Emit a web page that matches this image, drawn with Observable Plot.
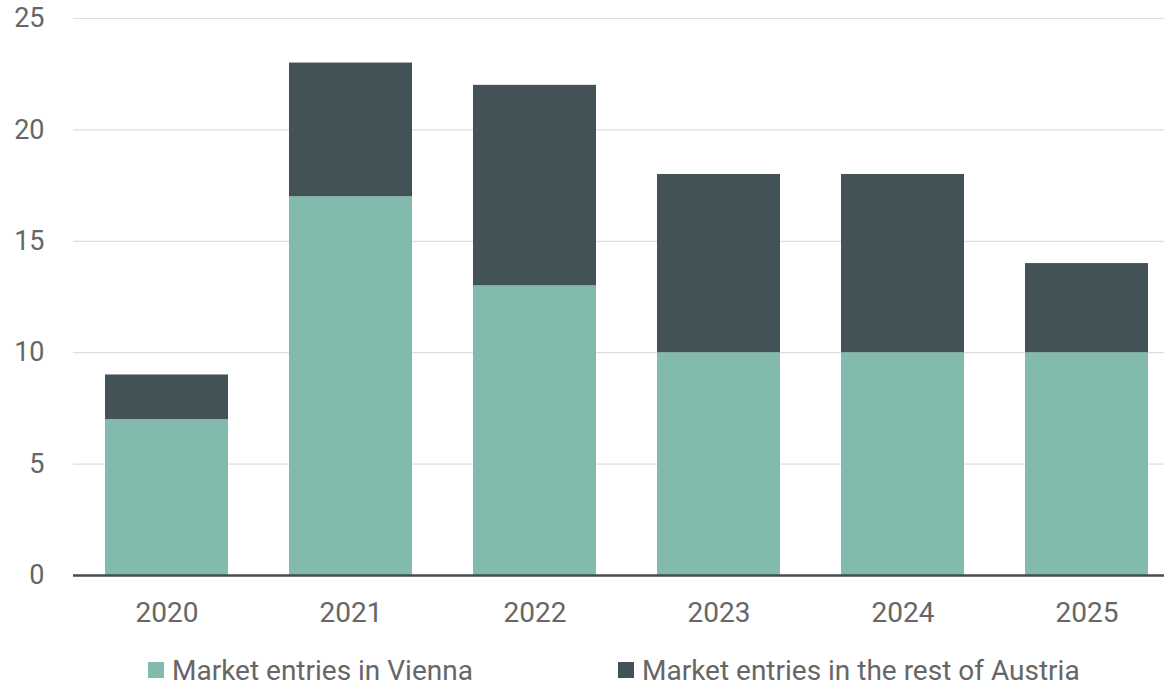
<!DOCTYPE html>
<html>
<head>
<meta charset="utf-8">
<script src="https://cdn.jsdelivr.net/npm/d3@7"></script>
<script src="https://cdn.jsdelivr.net/npm/@observablehq/plot@0.6"></script>
<style>
  html, body { margin: 0; padding: 0; background: #fff; }
  #chart { position: relative; width: 1164px; height: 685px; font-family: Roboto, "Noto Sans", sans-serif; }
  .legend { position: absolute; top: 647px; left: 0; width: 1164px; height: 38px; }
  .item { position: absolute; top: 0; height: 46px; display: flex; align-items: center; font-size: 28px; color: #666; }
  .sw { width: 16px; height: 16px; margin-right: 8px; display: inline-block; }
</style>
</head>
<body>
<div id="chart"></div>
<script>
const years = ["2020", "2021", "2022", "2023", "2024", "2025"];
const vienna = [7, 17, 13, 10, 10, 10];
const restOfAustria = [2, 6, 9, 8, 8, 4];
const seriesNames = ["Market entries in Vienna", "Market entries in the rest of Austria"];
const seriesColors = ["#82bbad", "#435256"];
const yTicks = [0, 5, 10, 15, 20, 25];

const data = [];
years.forEach((y, i) => {
  data.push({year: y, series: seriesNames[0], value: vienna[i]});
  data.push({year: y, series: seriesNames[1], value: restOfAustria[i]});
});

const plot = Plot.plot({
  width: 1164,
  height: 645,
  marginLeft: 73,
  marginRight: 0,
  marginTop: 18,
  marginBottom: 70,
  style: {fontFamily: "Roboto, 'Noto Sans', sans-serif", fontSize: "28px", color: "#666", background: "#fff"},
  x: {domain: years, range: [72.75, 1179.75], paddingInner: 0.3333, paddingOuter: 0.1667, label: null},
  y: {domain: [0, 25], label: null},
  color: {domain: seriesNames, range: seriesColors},
  marks: [
    Plot.ruleY(yTicks.filter(d => d > 0), {stroke: "#dedede", strokeWidth: 1.2}),
    Plot.barY(data, {x: "year", y: "value", fill: "series", order: seriesNames}),
    Plot.ruleY([0], {stroke: "#3f4f52", strokeWidth: 2.5}),
    Plot.axisY({ticks: yTicks, tickSize: 0, tickPadding: 29, fontSize: 27, fill: "#666", label: null}),
    Plot.axisX({tickSize: 0, tickPadding: 27, fontSize: 28, fill: "#666", label: null})
  ]
});

const chart = document.getElementById("chart");
chart.appendChild(plot);

const legend = document.createElement("div");
legend.className = "legend";
const lefts = [148, 618];
seriesNames.forEach((name, i) => {
  const item = document.createElement("div");
  item.className = "item";
  item.style.left = lefts[i] + "px";
  const sw = document.createElement("span");
  sw.className = "sw";
  sw.style.background = seriesColors[i];
  const t = document.createElement("span");
  t.textContent = name;
  item.appendChild(sw);
  item.appendChild(t);
  legend.appendChild(item);
});
chart.appendChild(legend);
</script>
</body>
</html>
